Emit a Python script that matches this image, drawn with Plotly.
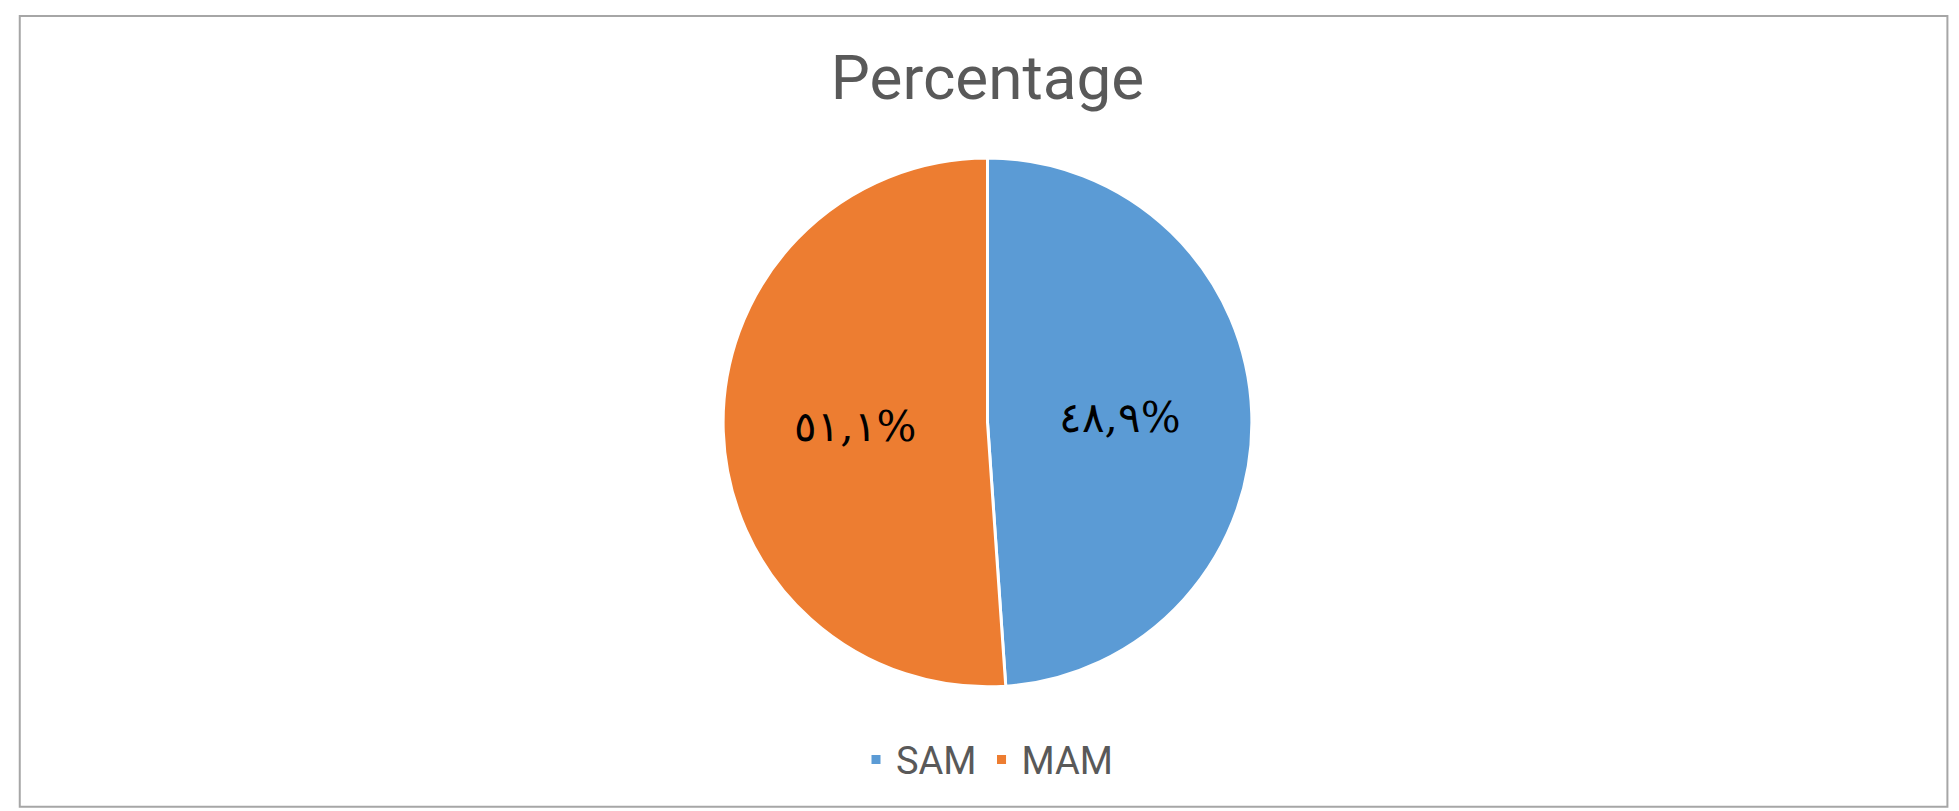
import plotly.graph_objects as go

labels = ["SAM", "MAM"]
values = [48.9, 51.1]
text_labels = ["٤٨,٩%", "٥١,١%"]
colors = ["#5B9BD5", "#ED7D31"]

fig = go.Figure(go.Pie(
    labels=labels, values=values, text=text_labels,
    texttemplate="%{text}", textposition="inside",
    textfont=dict(size=42, color="black", family="DejaVu Serif"),
    insidetextorientation="horizontal",
    marker=dict(colors=colors, line=dict(color="white", width=3)),
    sort=False, direction="clockwise", rotation=0,
    domain=dict(x=[0, 1], y=[0.163, 0.815]),
    hoverinfo="label+percent",
))
fig.update_layout(
    width=1959, height=811,
    margin=dict(l=0, r=0, t=0, b=0),
    paper_bgcolor="white",
    title=dict(text="Percentage", x=0.5, xanchor="center", y=0.915, yanchor="middle",
               font=dict(size=62, color="#595959", family="Roboto")),
    legend=dict(orientation="h", x=0.5, xanchor="center", y=0.073, yanchor="middle",
                font=dict(size=38, color="#595959", family="Roboto")),
    shapes=[dict(type="rect", xref="paper", yref="paper", x0=0.006, x1=0.99, y0=0.015, y1=0.99,
                 line=dict(color="#A6A6A6", width=2))],
)
fig.write_html("out.html")
